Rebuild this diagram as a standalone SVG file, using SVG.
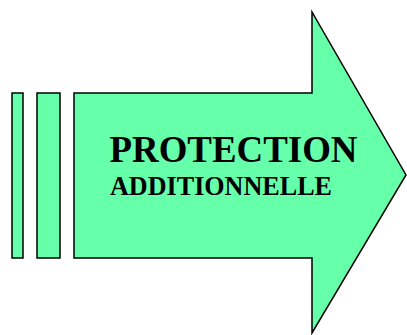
<svg xmlns="http://www.w3.org/2000/svg" width="407" height="335" viewBox="0 0 407 335">
<style>
.s{fill:#66FFAA;stroke:#000;stroke-width:1.5}
.t{font-family:"Liberation Serif","Times New Roman",serif;font-weight:bold;fill:#000}
</style>
<rect width="407" height="335" fill="#fff"/>
<g id="bar1"><rect class="s" x="12" y="93" width="11" height="165"/></g>
<g id="bar2"><rect class="s" x="37" y="93" width="23" height="165"/></g>
<g id="arrow">
<polygon class="s" points="74,93 312,93 312,12 406,175 312,333 312,258 74,258"/>
<text class="t" x="109.5" y="162" font-size="37.5" textLength="248" lengthAdjust="spacingAndGlyphs">PROTECTION</text>
<text class="t" x="110" y="195" font-size="26.5" textLength="222" lengthAdjust="spacingAndGlyphs">ADDITIONNELLE</text>
</g>
</svg>
